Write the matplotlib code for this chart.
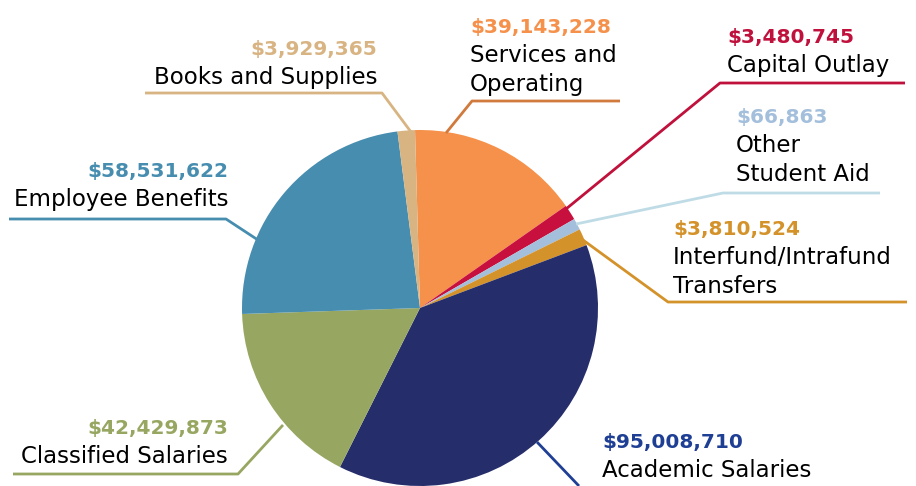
import matplotlib
matplotlib.use("Agg")
import matplotlib.pyplot as plt

# budget categories, clockwise from the top
categories = ["Services and\nOperating", "Capital Outlay", "Other\nStudent Aid",
              "Interfund/Intrafund\nTransfers", "Academic Salaries",
              "Classified Salaries", "Employee Benefits", "Books and Supplies"]
amounts = [39143228, 3480745, 66863, 3810524, 95008710, 42429873, 58531622, 3929365]
# wedge sizes as drawn (the "Other Student Aid" wedge is drawn wider than its amount)
wedge_sizes = [39143228, 3480745, 2600000, 3810524, 95008710, 42429873, 58531622, 3929365]

slice_colors = ["#F5914A", "#C8103E", "#A3BFDC", "#D4922A",
                "#252D6A", "#97A762", "#478DAF", "#D9B483"]
value_colors = ["#F5914A", "#C0103C", "#A3BFDC", "#D4922A",
                "#1F3F94", "#97A762", "#478DAF", "#D9B483"]
line_colors = ["#D07A3E", "#C0103C", "#BFDCE6", "#D4922A",
               "#1F3F94", "#97A762", "#478DAF", "#D9B483"]

W, H = 916, 486

fig = plt.figure(figsize=(W / 100, H / 100), dpi=100)
ax = fig.add_axes([0, 0, 1, 1])


def Y(y):
    # pixel row (from top) to data y
    return H - y


ax.pie(wedge_sizes, colors=slice_colors, startangle=91.6, counterclock=False,
       center=(420, Y(308)), radius=178, frame=True,
       wedgeprops=dict(linewidth=0))
ax.set_xlim(0, W)
ax.set_ylim(0, H)
ax.set_aspect("equal")
ax.axis("off")

# label layout: (x, ha, value baseline, leader polyline points)
layout = [
    (470, "left", 33, [(620, 101), (472, 101), (446, 133)]),
    (727, "left", 43, [(905, 83), (720, 83), (566, 209)]),
    (736, "left", 123, [(880, 193), (723, 193), (576, 224)]),
    (673, "left", 235, [(907, 302), (668, 302), (583, 240)]),
    (602, "left", 448, [(537, 442), (579, 486)]),
    (228, "right", 434, [(13, 474), (238, 474), (283, 425)]),
    (228, "right", 177, [(9, 219), (226, 219), (258, 240)]),
    (377, "right", 55, [(145, 93), (382, 93), (411, 132)]),
]

line_h = 29
for cat, amt, vcol, lcol, (x, ha, yb, pts) in zip(categories, amounts, value_colors,
                                                   line_colors, layout):
    ax.text(x, Y(yb), f"${amt:,}", ha=ha, va="baseline", color=vcol,
            fontsize=14.5, fontweight="bold", family="DejaVu Sans")
    for i, part in enumerate(cat.split("\n")):
        ax.text(x, Y(yb + line_h * (i + 1)), part, ha=ha, va="baseline",
                color="black", fontsize=16.5, family="DejaVu Sans")
    xs = [p[0] for p in pts]
    ys = [Y(p[1]) for p in pts]
    ax.plot(xs, ys, color=lcol, linewidth=2.0, solid_capstyle="butt", clip_on=False)

fig.savefig("out.png", dpi=100, facecolor="white")
